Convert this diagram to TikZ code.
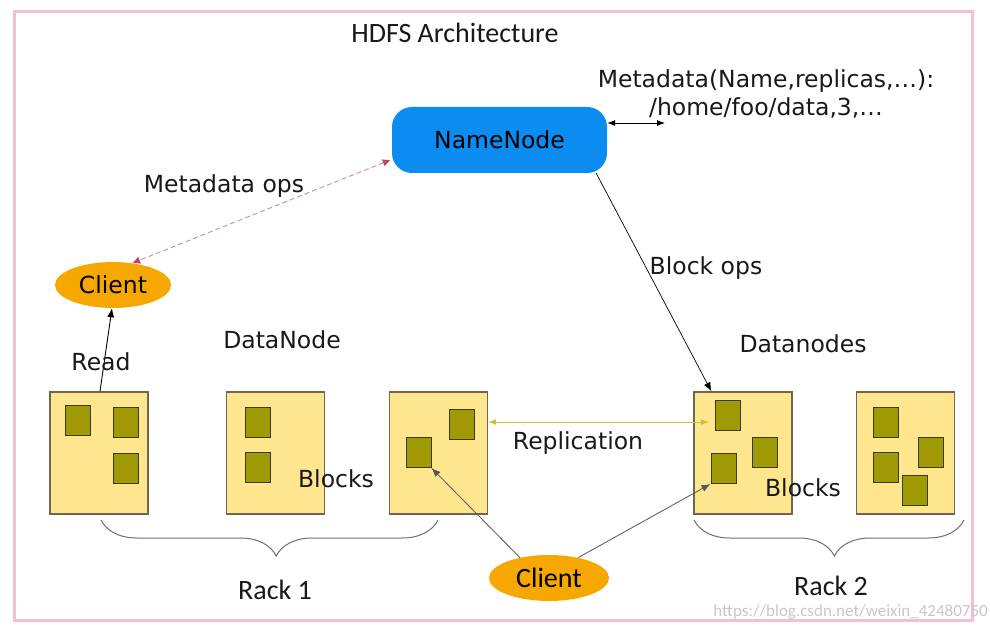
\documentclass[tikz,border=0pt]{standalone}
\usepackage{fontspec}
\setmainfont{DejaVu Sans}
\newfontfamily\narrowf{Carlito}
\usetikzlibrary{shapes.geometric,decorations.pathreplacing,calc,arrows.meta}
\definecolor{pinkframe}{HTML}{F6BFD0}
\definecolor{nnblue}{HTML}{0A8CF0}
\definecolor{clientorange}{HTML}{F7A800}
\definecolor{boxfill}{HTML}{FDE68E}
\definecolor{boxborder}{HTML}{6E6650}
\definecolor{blkfill}{HTML}{A09A06}
\definecolor{blkborder}{HTML}{3C3A14}
\definecolor{dashcol}{HTML}{C4909E}
\definecolor{dashtip}{HTML}{C04466}
\definecolor{replcol}{HTML}{C8C040}
\definecolor{linegray}{HTML}{555555}
\definecolor{bracegray}{HTML}{707070}
\tikzset{
  lbl/.style={font=\fontsize{23.5}{28}\selectfont, inner sep=0pt, text=black!90},
  nlbl/.style={font=\narrowf\fontsize{28}{32}\selectfont, inner sep=0pt, text=black!90},
  rackbox/.style={draw=boxborder, fill=boxfill, minimum width=98pt, minimum height=122pt, inner sep=0pt, line width=1.2pt},
  blk/.style={draw=blkborder, fill=blkfill, minimum width=25pt, minimum height=30pt, inner sep=0pt, line width=1pt},
  clientnode/.style={ellipse, fill=clientorange, inner sep=0pt},
  blackarrow/.style={-{Latex[length=9pt,width=7pt]}, draw=black, line width=0.9pt},
  grayarrow/.style={-{Latex[length=9pt,width=7pt]}, draw=linegray, line width=0.8pt},
  rackbrace/.style={decorate, decoration={brace, amplitude=36pt, aspect=0.48}, draw=bracegray, line width=1pt}
}
\begin{document}
\begin{tikzpicture}[x=1pt,y=-1pt]
\useasboundingbox (0,0) rectangle (990,631);
\fill[white] (0,0) rectangle (990,631);
\draw[pinkframe, line width=3pt] (14,12) rectangle (972,620);

\node[nlbl] (title) at (455,33) {HDFS Architecture};

\node[fill=nnblue, rounded corners=20pt, minimum width=215pt, minimum height=66pt, inner sep=0pt, font=\fontsize{23.5}{28}\selectfont] (nn) at (499.5,140) {NameNode};

\node[lbl, align=center, font=\fontsize{23.5}{28}\selectfont] (meta) at (766,94) {Metadata(Name,replicas,\dots):\\/home/foo/data,3,\dots};
\coordinate (metaarr) at (665,123);
\draw[{Latex[length=8pt,width=6pt]}-{Latex[length=8pt,width=6pt]}, line width=0.9pt] (nn.east |- metaarr) -- (metaarr);

\node[clientnode, minimum width=116pt, minimum height=46pt, font=\fontsize{23.5}{28}\selectfont] (client1) at (113,285) {Client};
\node[clientnode, minimum width=120pt, minimum height=46pt, font=\narrowf\fontsize{28}{32}\selectfont] (client2) at (549,578) {Client};

% rack boxes
\node[rackbox] (box1) at (99,453) {};
\node[rackbox] (box2) at (275.5,453) {};
\node[rackbox] (box3) at (438.5,453) {};
\node[rackbox] (box4) at (743,453) {};
\node[rackbox] (box5) at (905.5,453) {};

% blocks
\node[blk] (b1a) at (78,420) {};
\node[blk] (b1b) at (125.5,422) {};
\node[blk] (b1c) at (125.5,468.5) {};
\node[blk] (b2a) at (257.5,422) {};
\node[blk] (b2b) at (257.5,467.5) {};
\node[blk] (b3a) at (462,424.5) {};
\node[blk] (b3b) at (418.5,452.5) {};
\node[blk] (b4a) at (728,415) {};
\node[blk] (b4b) at (764.5,452.5) {};
\node[blk] (b4c) at (723.5,468.5) {};
\node[blk] (b5a) at (885.5,422) {};
\node[blk] (b5b) at (931,452.5) {};
\node[blk] (b5c) at (885.5,467) {};
\node[blk] (b5d) at (914.5,490) {};

% connectors
\draw[dashcol, line width=0.9pt, dash pattern=on 5pt off 3pt,
  {Triangle[length=7pt,width=7pt,fill=dashtip,color=dashtip]}-{Triangle[length=7pt,width=7pt,fill=dashtip,color=dashtip]}]
  ($(nn.south west)+(-2,-13)$) -- ($(client1.north)+(20,1)$);
\draw[blackarrow] ($(box1.north)+(1,0)$) -- ($(client1.south)+(-1,0)$);
\draw[blackarrow, line width=0.7pt] ($(nn.south east)+(-11,0)$) -- ($(box4.north west)+(18,0)$);
\draw[replcol, line width=1pt, {Latex[length=8pt,width=6pt]}-{Latex[length=8pt,width=6pt]}]
  ($(box3.east)+(0,-31)$) -- ($(b4a.west)+(-6,7)$);
\draw[grayarrow] (client2.145) -- (b3b.south east);
\draw[grayarrow] (client2.35) -- (b4c.south west);

% braces
\draw[rackbrace] (438,520) -- (101,520);
\draw[rackbrace] (964,520) -- (694,520);

% labels
\node[lbl] (lmetaops) at (224,186) {Metadata ops};
\node[lbl] (lblockops) at (706,268) {Block ops};
\node[lbl] (lread) at (101,362) {Read};
\node[lbl] (ldatanode) at (282,340) {DataNode};
\node[lbl] (ldatanodes) at (803,344) {Datanodes};
\node[lbl] (lrepl) at (578,443) {Replication};
\node[lbl] (lblocks1) at (336,479) {Blocks};
\node[lbl] (lblocks2) at (803,488) {Blocks};
\node[nlbl] (lrack1) at (275,590) {Rack 1};
\node[nlbl] (lrack2) at (831,586) {Rack 2};
\node[font=\narrowf\fontsize{17}{20}\selectfont, text=black!22, inner sep=0pt, anchor=east] (wm) at (988,612) {https://blog.csdn.net/weixin\_42480750};
\end{tikzpicture}
\end{document}
